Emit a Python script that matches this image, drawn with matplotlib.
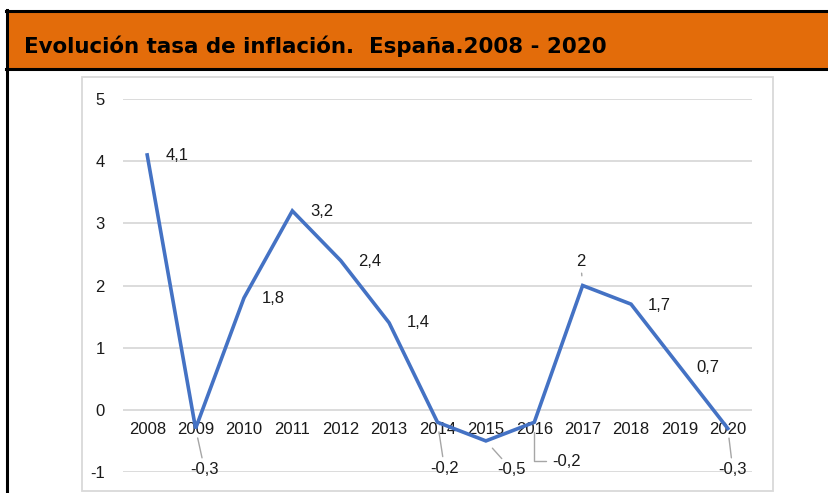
import matplotlib
matplotlib.use("Agg")
import matplotlib.pyplot as plt
from matplotlib.patches import Rectangle
from matplotlib.lines import Line2D

years = ["2008", "2009", "2010", "2011", "2012", "2013", "2014",
         "2015", "2016", "2017", "2018", "2019", "2020"]
inflation = [4.1, -0.3, 1.8, 3.2, 2.4, 1.4, -0.2, -0.5, -0.2, 2.0, 1.7, 0.7, -0.3]
y_ticks = [-1, 0, 1, 2, 3, 4, 5]
title = "Evolución tasa de inflación.  España.2008 - 2020"

# label offsets in pixels (dx right, dy down) and leader style
label_offsets = [(30, 1), (9, 41), (29, 1), (30, 1), (29, 1), (29, 0), (7, 46),
                 (26, 29), (32, 39), (-2, -24), (28, 1), (28, 1), (5, 41)]
leaders = [False, True, False, False, False, False, True,
           True, "elbow", True, False, False, True]

W, H, DPI = 829, 493, 100
fig = plt.figure(figsize=(W / DPI, H / DPI), dpi=DPI)
fig.patch.set_facecolor("white")

def fx(px):
    return px / W

def fy(py):
    return 1 - py / H

# header bar
fig.patches.append(Rectangle((fx(7), fy(69)), 1 - fx(7), fy(11) - fy(69),
                             transform=fig.transFigure, facecolor="#E36C0A",
                             edgecolor="none", zorder=-2))
for yy in (11, 69):
    fig.lines.append(Line2D([fx(6), 1], [fy(yy), fy(yy)], transform=fig.transFigure,
                            color="black", lw=2.2, zorder=-1))
fig.lines.append(Line2D([fx(7), fx(7)], [0, fy(10)], transform=fig.transFigure,
                        color="black", lw=2.2, zorder=-1))
fig.text(fx(24), fy(46), title, fontsize=15.4, fontweight="bold",
         family="DejaVu Sans", va="center", ha="left", color="black")

# chart frame
fig.patches.append(Rectangle((fx(82), fy(491)), fx(773) - fx(82), fy(77) - fy(491),
                             transform=fig.transFigure, facecolor="white",
                             edgecolor="#d9d9d9", lw=1.3, zorder=-2))

ax = fig.add_axes([fx(123), fy(472), fx(752) - fx(123), fy(99) - fy(472)])
ax.set_facecolor("none")
x = list(range(len(years)))
ax.plot(x, inflation, color="#4472C4", lw=2.6, solid_joinstyle="miter", zorder=3)
ax.set_xlim(-0.5, len(years) - 0.5)
ax.set_ylim(-1, 5)
ax.set_yticks(y_ticks)
ax.set_yticklabels([str(v) for v in y_ticks])
ax.yaxis.grid(True, color="#d9d9d9", lw=1.3)
ax.set_axisbelow(True)
ax.set_xticks(x)
ax.set_xticklabels(years)
for s in ("top", "right", "left"):
    ax.spines[s].set_visible(False)
ax.spines["bottom"].set_position(("data", 0))
ax.spines["bottom"].set_color("none")
ax.tick_params(axis="both", length=0, labelsize=12, labelcolor="#1a1a1a")
ax.tick_params(axis="y", pad=13)
ax.tick_params(axis="x", pad=9)
for lab in ax.get_xticklabels() + ax.get_yticklabels():
    lab.set_family("Liberation Sans")

for i, v in enumerate(inflation):
    txt = f"{v:g}".replace(".", ",")
    dx, dy = label_offsets[i]
    kw = {}
    if leaders[i] is True:
        kw["arrowprops"] = dict(arrowstyle="-", color="#a6a6a6", lw=1.0,
                                shrinkA=1, shrinkB=7)
    elif leaders[i] == "elbow":
        kw["arrowprops"] = dict(arrowstyle="-", color="#a6a6a6", lw=1.0,
                                shrinkA=2, shrinkB=7,
                                connectionstyle="angle,angleA=0,angleB=90,rad=0")
    ax.annotate(txt, xy=(i, v), xytext=(dx, -dy), textcoords="offset pixels",
                ha="center", va="center", fontsize=12, family="Liberation Sans",
                color="#1a1a1a", zorder=4, **kw)

fig.savefig("out.png", dpi=DPI)
